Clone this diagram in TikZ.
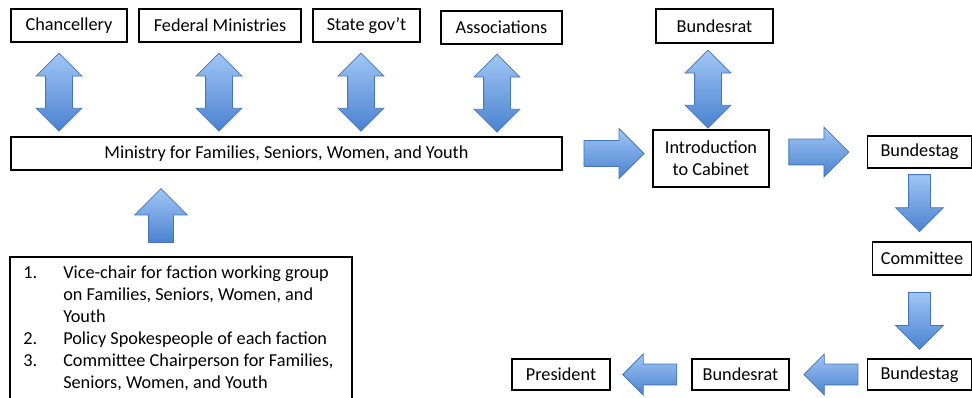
\documentclass[tikz,border=0pt]{standalone}
\usepackage{fontspec}
\setmainfont{Carlito}
\usetikzlibrary{shapes.arrows,calc}

\definecolor{arrowtop}{RGB}{160,198,245}
\definecolor{arrowbot}{RGB}{74,130,208}
\definecolor{arrowrim}{RGB}{70,118,182}

% one pixel of the page
\def\pxu{0.75pt}

\tikzset{
  box/.style={draw=black, line width=0.9pt, fill=white, inner sep=0pt, minimum height=33*\pxu},
  fat/.style={top color=arrowtop, bottom color=arrowbot, draw=arrowrim, line width=0.6pt},
  dblarrow/.style={fat, double arrow, shape border rotate=90, minimum height=78*\pxu,
    inner sep=13*\pxu, double arrow head extend=9.5*\pxu, yshift=-2pt},
  rarrow/.style={fat, single arrow, minimum height=60*\pxu,
    inner sep=12.5*\pxu, single arrow head extend=12*\pxu},
  darrow/.style={fat, single arrow, shape border rotate=270, minimum height=57*\pxu,
    inner sep=10.5*\pxu, single arrow head extend=13*\pxu, yshift=5.5pt},
  larrow/.style={fat, single arrow, shape border rotate=180, minimum height=54*\pxu,
    inner sep=10*\pxu, single arrow head extend=10*\pxu, xshift=3pt},
  uarrow/.style={fat, single arrow, shape border rotate=90, minimum height=54*\pxu,
    inner sep=12*\pxu, single arrow head extend=14*\pxu, yshift=-6pt}
}

\begin{document}
\begin{tikzpicture}[x=0.75pt, y=-0.75pt, font=\fontsize{13.7}{16.5}\selectfont]
  \useasboundingbox (0,0) rectangle (972,398);
  % bodies consulted by the ministry
  \node[box, minimum width=116*\pxu] (chan) at (69,25.5) {Chancellery};
  \node[box, minimum width=162*\pxu] (fedmin) at (220,25.5) {Federal Ministries};
  \node[box, minimum width=107*\pxu] (stategov) at (366.5,25.5) {State gov’t};
  \node[box, minimum width=121*\pxu] (assoc) at (501.5,27.5) {Associations};
  \node[box, minimum width=117*\pxu, minimum height=34*\pxu] (bratop) at (714.5,26) {Bundesrat};
  \node[box, minimum width=551*\pxu] (mfswy) at (286.5,153.5) {Ministry for Families, Seniors, Women, and Youth};
  \node[box, minimum width=116*\pxu, minimum height=57*\pxu, align=center] (intro) at (711,158.5) {Introduction\\to Cabinet};

  % passage of the bill
  \node[box, minimum width=104*\pxu, minimum height=32*\pxu] (btag) at (919.5,152) {Bundestag};
  \node[box, minimum width=99*\pxu] (cmte) at (922,258.5) {Committee};
  \node[box, minimum width=104*\pxu, minimum height=31*\pxu] (btagb) at (919.5,374.5) {Bundestag};
  \node[box, minimum width=97*\pxu, minimum height=31*\pxu] (bratb) at (740.5,374.5) {Bundesrat};
  \node[box, minimum width=98*\pxu, minimum height=31*\pxu] (pres) at (561,374.5) {President};

  % who drafts it
  \node[anchor=north west, inner xsep=13*\pxu, inner ysep=6*\pxu] (groups) at (10,257) {%
    \begin{tabular}{@{}p{30pt}@{}l@{}}
      1. & Vice-chair for faction working group\\
         & on Families, Seniors, Women, and\\
         & Youth\\
      2. & Policy Spokespeople of each faction\\
      3. & Committee Chairperson for Families,\\
         & Seniors, Women, and Youth
    \end{tabular}};
  \coordinate (listcorner) at (352,410);
  \draw[line width=0.9pt] (10,257) rectangle (listcorner);

  % two-way links
  \path ($(chan.south)+(-10,0)$) -- ($(chan.south |- mfswy.north)+(-10,0)$) node[midway, dblarrow] (a1) {};
  \path ($(fedmin.south)+(-1,0)$) -- ($(fedmin.south |- mfswy.north)+(-1,0)$) node[midway, dblarrow] (a2) {};
  \path ($(stategov.south)+(-5.5,0)$) -- ($(stategov.south |- mfswy.north)+(-5.5,0)$) node[midway, dblarrow] (a3) {};
  \path ($(assoc.south)+(-4.5,0)$) -- ($(assoc.south |- mfswy.north)+(-4.5,0)$) node[midway, dblarrow] (a4) {};
  \path ($(bratop.south)+(-6.5,0)$) -- ($(bratop.south |- intro.north)+(-6.5,0)$) node[midway, dblarrow] (a5) {};

  % flow to the right and down
  \path (mfswy.east) -- (intro.west |- mfswy.east) node[midway, rarrow] (a6) {};
  \path (intro.east |- btag.west) -- (btag.west) node[pos=0.44, rarrow] (a7) {};
  \path (btag.south) -- (cmte.north -| btag.south) node[midway, darrow] (a8) {};
  \path (cmte.south -| btag.south) -- (btagb.north) node[pos=0.57, darrow] (a9) {};
  \path (btagb.west) -- (bratb.east) node[pos=0.45, larrow] (a10) {};
  \path (bratb.west) -- (pres.east) node[midway, larrow] (a11) {};

  % up into the ministry
  \path ($(groups.north west)+(151,0)$) -- ($(groups.north west |- mfswy.south)+(151,0)$) node[midway, uarrow] (a12) {};
\end{tikzpicture}
\end{document}
